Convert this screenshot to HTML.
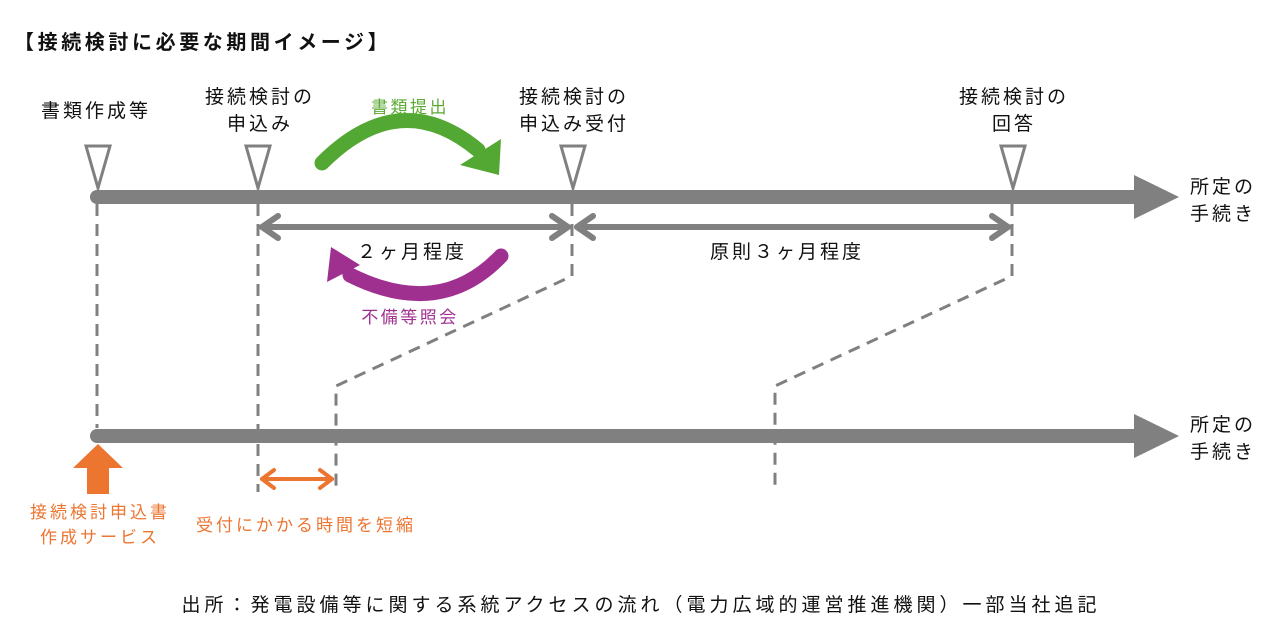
<!DOCTYPE html>
<html><head><meta charset="utf-8"><style>
html,body{margin:0;padding:0;background:#fff;}
svg{display:block;font-family:"Liberation Sans","Noto Sans CJK JP",sans-serif;}
</style></head><body>
<svg width="1280" height="638" viewBox="0 0 1280 638" xmlns="http://www.w3.org/2000/svg">
<text x="14" y="49" font-size="20" font-weight="bold" fill="#111" letter-spacing="3.6">【接続検討に必要な期間イメージ】</text>
<g font-size="19" fill="#111" text-anchor="middle" letter-spacing="3">
<text x="96" y="117">書類作成等</text>
<text x="260" y="103">接続検討の</text><text x="260" y="130">申込み</text>
<text x="574" y="103">接続検討の</text><text x="574" y="130">申込み受付</text>
<text x="1014" y="103">接続検討の</text><text x="1014" y="130">回答</text>
</g>
<g font-size="19" fill="#111" letter-spacing="3">
<text x="1190" y="193">所定の</text><text x="1190" y="220">手続き</text>
<text x="1190" y="431">所定の</text><text x="1190" y="458">手続き</text>
<text x="357" y="258">２ヶ月程度</text>
<text x="710" y="258">原則３ヶ月程度</text>
</g>
<text x="410" y="113" font-size="17" fill="#5aaa32" text-anchor="middle" letter-spacing="2.5">書類提出</text>
<text x="410" y="323" font-size="17" fill="#a0308f" text-anchor="middle" letter-spacing="2.5">不備等照会</text>
<g stroke="#808080" stroke-width="3" stroke-dasharray="12,8" fill="none">
<path d="M97 204 V428"/>
<path d="M258 204 V492"/>
<path d="M572 204 V276 L336 386 V492"/>
<path d="M1012 204 V276 L775 386 V492"/>
</g>
<line x1="97" y1="197" x2="1140" y2="197" stroke="#808080" stroke-width="14" stroke-linecap="round"/>
<polygon points="1134,175 1179,197 1134,219" fill="#808080"/>
<line x1="97" y1="436" x2="1140" y2="436" stroke="#808080" stroke-width="14" stroke-linecap="round"/>
<polygon points="1134,414 1179,436 1134,458" fill="#808080"/>
<g fill="#fff" stroke="#808080" stroke-width="3">
<polygon points="86,146 110,146 98,188"/>
<polygon points="246,146 270,146 258,188"/>
<polygon points="561,146 585,146 573,188"/>
<polygon points="1001,146 1025,146 1013,188"/>
</g>
<g stroke="#808080" stroke-width="6" fill="none" stroke-linecap="round" stroke-linejoin="round">
<path d="M262 227 H568"/><path d="M278 216 L262 227 L278 238"/><path d="M552 216 L568 227 L552 238"/>
<path d="M577 227 H1008"/><path d="M593 216 L577 227 L593 238"/><path d="M992 216 L1008 227 L992 238"/>
</g>
<path d="M322 163 Q400 85 478 150" stroke="#52a832" stroke-width="15" fill="none" stroke-linecap="round"/>
<polygon points="501,139 499,175 460,165" fill="#52a832"/>
<path d="M501 256 Q440 320 350 275" stroke="#a0308f" stroke-width="15" fill="none" stroke-linecap="round"/>
<polygon points="331,247 327,282 360,265" fill="#a0308f"/>
<polygon points="73,468 98,444 123,468 109,468 109,494 87,494 87,468" fill="#ec7530"/>
<g stroke="#ec7530" stroke-width="4" fill="none" stroke-linecap="round" stroke-linejoin="round">
<path d="M262 479 H332"/><path d="M274 470 L262 479 L274 488"/><path d="M320 470 L332 479 L320 488"/>
</g>
<g font-size="17" fill="#ec7530" text-anchor="middle" letter-spacing="3">
<text x="100" y="518">接続検討申込書</text>
<text x="100" y="543">作成サービス</text>
<text x="306" y="531">受付にかかる時間を短縮</text>
</g>
<text x="641" y="611" font-size="19" fill="#111" text-anchor="middle" letter-spacing="4">出所：発電設備等に関する系統アクセスの流れ（電力広域的運営推進機関）一部当社追記</text>
</svg>
</body></html>
